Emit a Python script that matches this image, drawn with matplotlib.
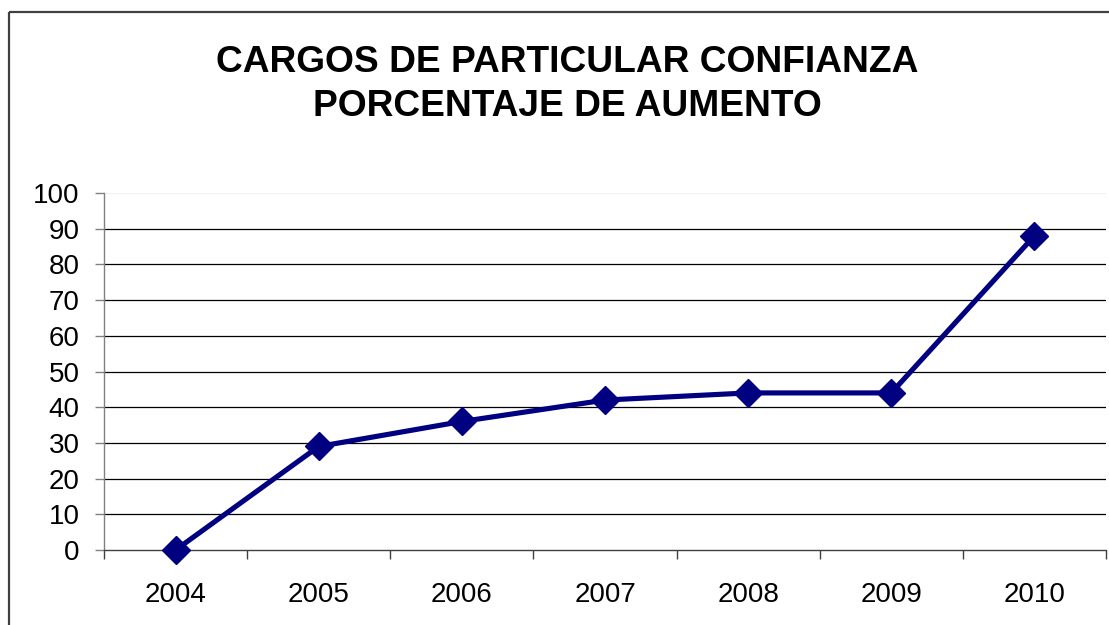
import matplotlib
matplotlib.use("Agg")
import matplotlib.pyplot as plt
from matplotlib.patches import Rectangle
from matplotlib.ticker import FixedLocator

# Datos
years = ["2004", "2005", "2006", "2007", "2008", "2009", "2010"]
aumento = [0, 29, 36, 42, 44, 44, 88]
title_lines = ["CARGOS DE PARTICULAR CONFIANZA", "PORCENTAJE DE AUMENTO"]

plt.rcParams["font.family"] = ["Liberation Sans", "DejaVu Sans"]

W, H = 1109, 625
fig = plt.figure(figsize=(W / 100, H / 100), dpi=100)

# marco exterior del gráfico
fig.patches.append(Rectangle((9 / W, 1 - 12 / H), 1.2, -1.2, transform=fig.transFigure,
                             fill=False, edgecolor="#404040", linewidth=1.6, zorder=0))

fig.text(567 / W, 1 - 62 / H, title_lines[0], ha="center", va="center",
         fontsize=26.7, fontweight="bold")
fig.text(567 / W, 1 - 106 / H, title_lines[1], ha="center", va="center",
         fontsize=26.7, fontweight="bold")

ax = fig.add_axes([104 / W, 75 / H, 1002 / W, 357 / H])
x = list(range(len(years)))
ax.plot(x, aumento, color="#000080", linewidth=3.7, marker="D", markersize=14,
        zorder=5, clip_on=False)

ax.set_xlim(-0.5, len(years) - 0.5)
ax.set_ylim(0, 100)
ax.set_yticks(range(0, 101, 10))
ax.set_xticks(x)
ax.set_xticklabels(years)
ax.xaxis.set_minor_locator(FixedLocator([i - 0.5 for i in range(len(years) + 1)]))

for v in range(10, 100, 10):
    ax.axhline(v, color="black", linewidth=0.9, zorder=1)
ax.axhline(100, color="#f0f0f0", linewidth=0.9, zorder=1)

for side in ("top", "right"):
    ax.spines[side].set_visible(False)
ax.spines["left"].set_color("#808080")
ax.spines["bottom"].set_color("#404040")
ax.spines["left"].set_linewidth(1.0)
ax.spines["bottom"].set_linewidth(1.0)

ax.tick_params(axis="y", length=6.5, width=1.0, color="#808080", pad=11, labelsize=20)
ax.tick_params(axis="x", which="major", length=0, pad=23, labelsize=20)
ax.tick_params(axis="x", which="minor", length=6.5, width=1.0, color="#404040")

fig.savefig("out.png", dpi=100)
